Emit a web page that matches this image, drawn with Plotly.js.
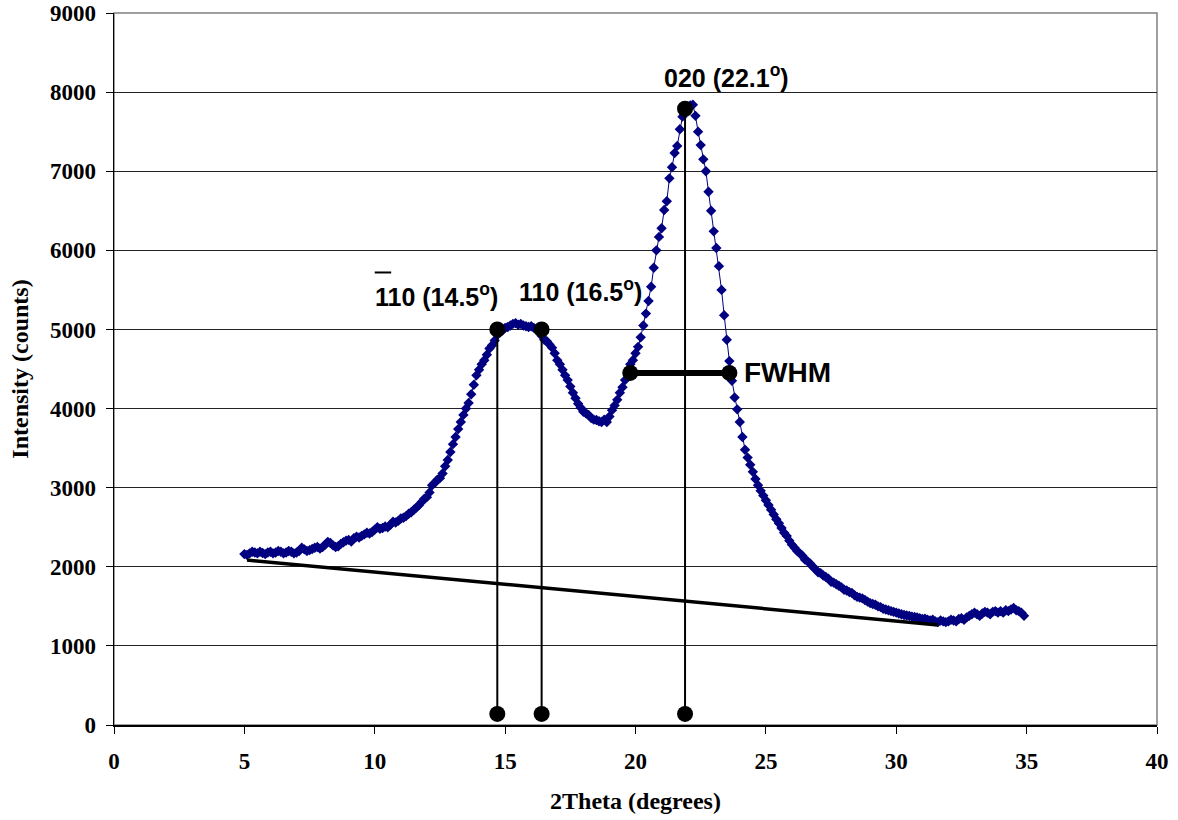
<!DOCTYPE html>
<html>
<head>
<meta charset="utf-8">
<script src="https://cdn.plot.ly/plotly-3.0.1.min.js"></script>
<style>html,body{margin:0;padding:0;background:#fff;}#chart{width:1178px;height:820px;}</style>
</head>
<body>
<div id="chart"></div>
<script>
// 2Theta start and step of the scan (degrees)
const scanStart = 5.0;
const scanStep = 0.1;
// Intensity (counts), one value per 0.1 degree from 5.0 to 34.9
const intensity = [
  2160, 2150, 2170, 2190, 2180, 2170, 2190, 2175, 2160, 2180,
  2190, 2170, 2180, 2200, 2190, 2170, 2180, 2200, 2190, 2170,
  2180, 2200, 2240, 2220, 2200, 2210, 2225, 2240, 2250, 2230,
  2250, 2280, 2315, 2300, 2270, 2250, 2260, 2290, 2310, 2330,
  2340, 2320, 2360, 2380, 2370, 2390, 2410, 2430, 2420, 2440,
  2470, 2500, 2480, 2490, 2510, 2500, 2530, 2570, 2560, 2580,
  2610, 2620, 2640, 2670, 2690, 2720, 2750, 2780, 2820, 2860,
  2880, 2940, 3030, 3060, 3100, 3120, 3180, 3270, 3350, 3450,
  3550, 3640, 3740, 3830, 3920, 4000, 4070, 4180, 4300, 4420,
  4490, 4560, 4610, 4680, 4760, 4800, 4860, 4930, 4960, 4990,
  5020, 5030, 5050, 5070, 5080, 5060, 5070, 5050, 5040, 5030,
  5040, 5020, 5000, 4990, 4920, 4870, 4850, 4810, 4770, 4700,
  4610, 4560, 4490, 4420, 4360, 4280, 4200, 4130, 4060, 4010,
  3960, 3940, 3920, 3880, 3860, 3855, 3840, 3830, 3860, 3830,
  3900, 3980, 4040, 4110, 4200, 4270, 4360, 4450, 4560, 4610,
  4700, 4780, 4900, 5050, 5200, 5360, 5540, 5780, 6000, 6170,
  6280, 6510, 6620, 6910, 7050, 7230, 7320, 7530, 7690, 7760,
  7800, 7830, 7840, 7700, 7500, 7330, 7150, 7000, 6740, 6500,
  6240, 6030, 5800, 5500, 5180, 4870, 4600, 4350, 4140, 3990,
  3830, 3640, 3480, 3380, 3290, 3200, 3110, 3030, 2960, 2900,
  2840, 2780, 2720, 2660, 2600, 2550, 2490, 2430, 2390, 2330,
  2280, 2240, 2200, 2170, 2140, 2090, 2070, 2040, 2000, 1970,
  1930, 1920, 1890, 1870, 1850, 1810, 1800, 1780, 1760, 1740,
  1710, 1700, 1680, 1670, 1640, 1620, 1610, 1600, 1580, 1560,
  1540, 1530, 1520, 1500, 1490, 1470, 1460, 1450, 1440, 1430,
  1420, 1410, 1400, 1390, 1385, 1380, 1370, 1365, 1360, 1350,
  1340, 1345, 1330, 1320, 1330, 1310, 1300, 1320, 1310, 1300,
  1310, 1330, 1320, 1310, 1340, 1350, 1330, 1360, 1380, 1400,
  1420, 1400, 1380, 1410, 1430, 1420, 1400, 1430, 1440, 1420,
  1440, 1420, 1450, 1440, 1460, 1480, 1450, 1440, 1420, 1380
];
// Peak markers and their drop lines
const peakX = [14.7, 16.4, 21.9];
const peakY = [5000, 5000, 7790];
const peakFootY = [140, 140, 140];
// FWHM bar
const fwhmX = [19.8, 23.6];
const fwhmY = [4450, 4450];
// Background baseline
const baseX = [5.1, 31.6];
const baseY = [2085, 1265];
// Labels
const peakLabels = ['110 (14.5<sup>o</sup>)', '110 (16.5<sup>o</sup>)', '020 (22.1<sup>o</sup>)'];
const fwhmLabel = 'FWHM';

const scanX = intensity.map((_, i) => +(scanStart + i * scanStep).toFixed(2));

const dropX = [], dropY = [];
peakX.forEach((x, i) => { dropX.push(x, x, null); dropY.push(peakY[i], peakFootY[i], null); });

const traces = [
  {x: scanX, y: intensity, type: 'scatter', mode: 'lines+markers',
   line: {color: '#000080', width: 1},
   marker: {symbol: 'diamond', size: 8, color: '#000080'}, hoverinfo: 'skip'},
  {x: baseX, y: baseY, type: 'scatter', mode: 'lines', line: {color: '#000', width: 3.5}},
  {x: dropX, y: dropY, type: 'scatter', mode: 'lines', line: {color: '#000', width: 2}},
  {x: fwhmX, y: fwhmY, type: 'scatter', mode: 'lines+markers', line: {color: '#000', width: 6},
   marker: {size: 16, color: '#000'}},
  {x: peakX.concat(peakX), y: peakY.concat(peakFootY), type: 'scatter', mode: 'markers',
   marker: {size: 16, color: '#000'}}
];

const labelFont = {family: 'Liberation Sans, Arial, sans-serif', size: 25, color: '#000', weight: 'bold'};
const tickFont = {family: 'Liberation Serif, Times New Roman, serif', size: 23, color: '#000', weight: 'bold'};
const titleFont = {family: 'Liberation Serif, Times New Roman, serif', size: 24, color: '#000', weight: 'bold'};

const layout = {
  width: 1178, height: 820,
  margin: {l: 114, r: 21, t: 13, b: 95},
  paper_bgcolor: '#fff', plot_bgcolor: '#fff',
  showlegend: false,
  xaxis: {range: [0, 40], dtick: 5, tick0: 0, ticks: 'outside', ticklen: 7, tickcolor: '#000', tickwidth: 1,
          showline: true, linecolor: '#000', linewidth: 1.5, showgrid: false, zeroline: false,
          tickfont: tickFont, ticklabelstandoff: 8,
          title: {text: '2Theta (degrees)', font: titleFont, standoff: 19}},
  yaxis: {range: [0, 9000], dtick: 1000, tick0: 0, ticks: 'outside', ticklen: 7, tickcolor: '#000', tickwidth: 1,
          showline: true, linecolor: '#000', linewidth: 1.5, showgrid: true, gridcolor: '#222', gridwidth: 1,
          zeroline: false, tickfont: tickFont, ticklabelstandoff: 5,
          title: {text: 'Intensity (counts)', font: titleFont, standoff: 14}},
  shapes: [
    {type: 'rect', xref: 'paper', yref: 'paper', x0: 0, x1: 1, y0: 0, y1: 1, line: {color: '#808080', width: 1.5}, layer: 'below'},
    {type: 'line', xref: 'x', yref: 'y', x0: 10.0, x1: 10.63, y0: 5720, y1: 5720, line: {color: '#000', width: 2}}
  ],
  annotations: [
    {x: 12.35, y: 5430, text: peakLabels[0], showarrow: false, font: labelFont, xanchor: 'center', yanchor: 'middle'},
    {x: 17.9, y: 5500, text: peakLabels[1], showarrow: false, font: labelFont, xanchor: 'center', yanchor: 'middle'},
    {x: 23.5, y: 8200, text: peakLabels[2], showarrow: false, font: labelFont, xanchor: 'center', yanchor: 'middle'},
    {x: 24.1, y: 4450, text: fwhmLabel, showarrow: false, font: Object.assign({}, labelFont, {size: 28}), xanchor: 'left', yanchor: 'middle'}
  ]
};

Plotly.newPlot('chart', traces, layout, {staticPlot: true, displayModeBar: false});
</script>
</body>
</html>
